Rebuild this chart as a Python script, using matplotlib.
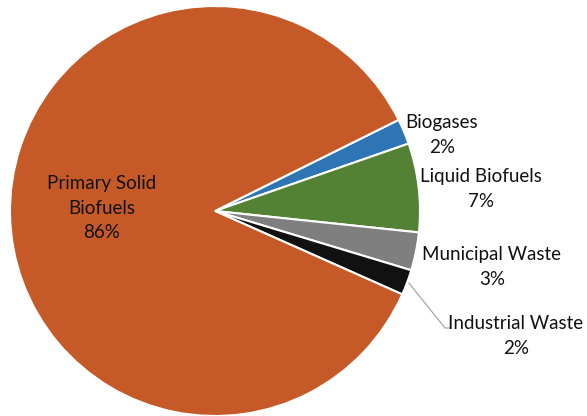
import numpy as np
import matplotlib
matplotlib.use("Agg")
import matplotlib.pyplot as plt

# Bioenergy supply by source (share, %)
categories = ["Biogases", "Liquid Biofuels", "Municipal Waste", "Industrial Waste", "Primary Solid\nBiofuels"]
shares = [2, 7, 3, 2, 86]
colors = ["#2E75B6", "#548235", "#7F7F7F", "#111111", "#C55A28"]

W, H = 587, 416
fig = plt.figure(figsize=(W / 100, H / 100), dpi=100)
ax = fig.add_axes([0, 0, 1, 1])

cx, cy, r = 215, H - 211, 205
wedges, _ = ax.pie(shares, colors=colors, startangle=26.4, counterclock=False,
                   center=(cx, cy), radius=r, frame=True,
                   wedgeprops=dict(edgecolor="white", linewidth=1.5))
ax.set_xlim(0, W)
ax.set_ylim(0, H)
ax.set_aspect("equal")
ax.axis("off")

font = dict(family=["Lato", "DejaVu Sans"], fontsize=13.5, color="#111111",
            ha="center", va="center", linespacing=1.52)

# label anchor positions (pixels from top-left)
label_pos = [(442, 135), (481, 189), (492, 267), (516, 336), (102, 208)]
for name, val, (lx, ly) in zip(categories, shares, label_pos):
    ax.text(lx, H - ly, f"{name}\n{val}%", **font)

# leader line for the small industrial waste slice
w = wedges[3]
mid = np.deg2rad((w.theta1 + w.theta2) / 2)
ex, ey = cx + (r + 2) * np.cos(mid), cy + (r + 2) * np.sin(mid)
ax.plot([ex, 445, 450], [ey, H - 328, H - 328], color="#A6A6A6", lw=0.9, zorder=1)

fig.savefig("out.png", dpi=100)
